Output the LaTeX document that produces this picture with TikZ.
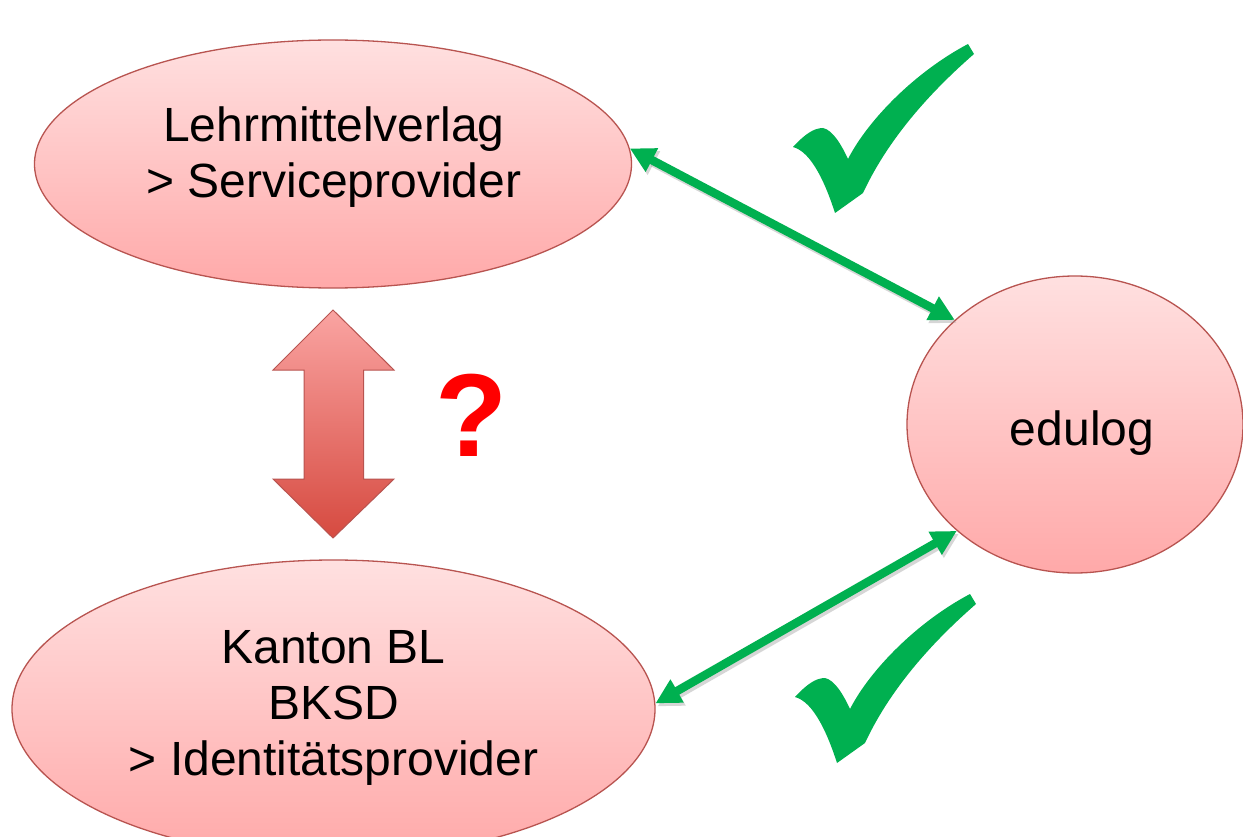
\documentclass[tikz,border=0pt]{standalone}
\usepackage{fontspec}
\setmainfont{Liberation Sans}
\usetikzlibrary{shapes.geometric,arrows.meta}
\definecolor{okgreen}{HTML}{00B050}
\definecolor{ellstroke}{HTML}{B85450}
\definecolor{elltop}{HTML}{FFE0E0}
\definecolor{ellbot}{HTML}{FFA9A9}
\definecolor{dtop}{HTML}{FAA4A2}
\definecolor{dbot}{HTML}{D64A40}
\tikzset{
  party/.style={ellipse, draw=ellstroke, line width=1.3pt, top color=elltop, bottom color=ellbot,
    inner sep=0pt},
  partytext/.style={inner sep=0pt, align=center, font=\fontsize{48}{56}\selectfont},
  link/.style={okgreen, line width=8.5pt, {Triangle[length=25pt,width=25pt]}-{Triangle[length=25pt,width=25pt]}},
  linkshadow/.style={black!45, opacity=0.35, line width=8.5pt, {Triangle[length=25pt,width=25pt]}-{Triangle[length=25pt,width=25pt]}},
  checkmark/.style={fill=okgreen, draw=none},
}
\begin{document}
\begin{tikzpicture}[x=1pt,y=-1pt]
\clip (0,0) rectangle (1243,837);
\fill[white] (0,0) rectangle (1243,837);
% nodes
\node[party, minimum width=597pt, minimum height=248pt] (vl) at (333,164) {};
\node[partytext] (vlt) at (334,157) {Lehrmittelverlag\\> Serviceprovider};
\node[party, minimum width=643pt, minimum height=298pt] (kt) at (333.5,709) {};
\node[partytext] (ktt) at (333.5,708) {Kanton BL\\BKSD\\> Identitätsprovider};
\node[party, minimum width=336pt, minimum height=297pt] (ed) at (1075,424.5) {};
\node[partytext] (edt) at (1082,433) {edulog};
% connectors with shadow
\draw[linkshadow, transform canvas={xshift=2pt,yshift=-3pt}] (vl.3) -- (ed.139);
\draw[linkshadow, transform canvas={xshift=2pt,yshift=-3pt}] (ed.222) -- (kt.1);
\draw[link] (vl.3) -- (ed.139);
\draw[link] (ed.222) -- (kt.1);
% double arrow
\shade[top color=dtop, bottom color=dbot, draw=ellstroke, line width=1pt, line join=miter]
  (333,310) -- (394,370) -- (363.5,370) -- (363.5,479) -- (394,479) -- (333,538)
  -- (273,479) -- (304,479) -- (304,370) -- (273,370) -- cycle;
% question mark
\node[text=red, font=\fontsize{118}{120}\selectfont\bfseries, inner sep=0pt] (q) at (472,415) {?};
% check marks
\foreach \dx/\dy in {0/0, 2/550}{
  \begin{scope}[shift={(\dx,\dy)}]
    \fill[checkmark] (793,147) .. controls (805,134) and (814,128) .. (823,128)
      .. controls (833,130) and (842,146) .. (848,159)
      .. controls (868,120) and (915,72) .. (968,44) -- (974,54)
      .. controls (935,88) and (890,135) .. (863,193) -- (835,213)
      .. controls (826,185) and (812,152) .. (793,147) -- cycle;
  \end{scope}
}
\end{tikzpicture}
\end{document}
